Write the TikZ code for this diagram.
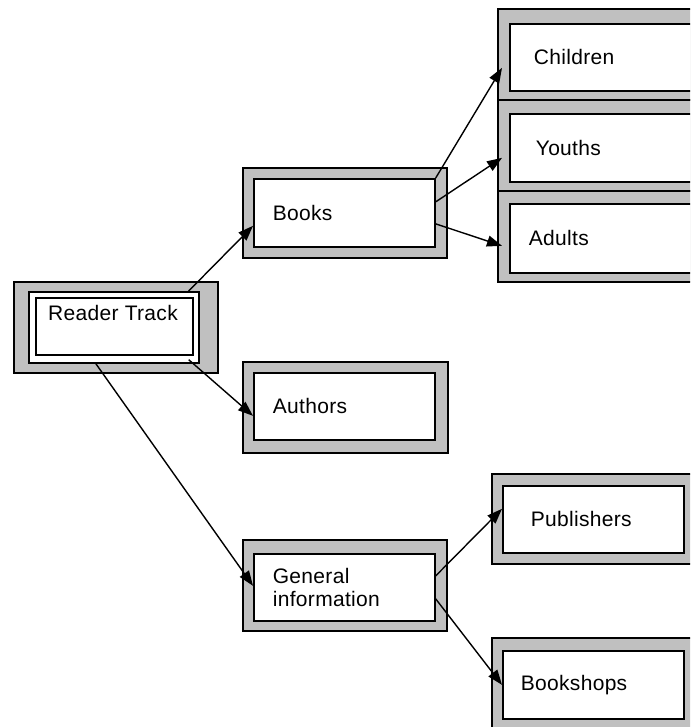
\documentclass[tikz,border=0pt]{standalone}
\usepackage{fontspec}
\setmainfont[LetterSpace=1.5]{Liberation Sans}
\usepackage{xcolor}
\usepackage{tikz}
\usetikzlibrary{positioning, arrows.meta, calc}
\definecolor{shellgray}{RGB}{192,192,192}
\newcommand{\boxfont}{\fontsize{21}{23.5}\selectfont}
\tikzset{
    shell/.style={draw, fill=shellgray, line width=1.7pt, inner sep=0pt, anchor=north west},
    panel/.style={draw, fill=white, line width=1.7pt, inner ysep=0pt, anchor=north west, align=left, font=\boxfont},
    link/.style={line width=1.4pt, -{Triangle[length=15pt,width=11pt]}}
}

\begin{document}
\begin{tikzpicture}[x=1pt,y=-1pt]
    \useasboundingbox (0,0) rectangle (690,727);
    \clip (0,0) rectangle (690,727);

    % Grey frames
    \node[shell, minimum width=204pt, minimum height=91pt] (readerO) at (13,281) {};
    \node[shell, minimum width=204pt, minimum height=90pt] (booksO) at (242,167) {};
    \node[shell, minimum width=205pt, minimum height=91pt] (authorsO) at (242,361) {};
    \node[shell, minimum width=204pt, minimum height=91pt] (generalO) at (242,539) {};
    \node[shell, minimum width=240pt, minimum height=91pt] (childrenO) at (497,8) {};
    \node[shell, minimum width=240pt, minimum height=91pt] (youthsO) at (497,99) {};
    \node[shell, minimum width=240pt, minimum height=91pt] (adultsO) at (497,190) {};
    \node[shell, minimum width=204pt, minimum height=90pt] (publishersO) at (491,473) {};
    \node[shell, minimum width=204pt, minimum height=100pt] (bookshopsO) at (491,637) {};

    % Root box (double line)
    \node[panel, inner sep=0pt, minimum width=170pt, minimum height=71pt] (readerF) at (28,291) {};
    \node[panel, inner sep=0pt, minimum width=157pt, minimum height=57pt] (reader) at (35,297) {};
    \node[font=\boxfont] (readerT) at (113,313) {Reader Track};

    % Second level
    \node[panel, text width=143pt, inner xsep=19pt, minimum height=68pt] (books) at (253,178) {Books};
    \node[panel, text width=143pt, inner xsep=19pt, minimum height=67pt] (authors) at (253,372) {Authors};
    \node[panel, text width=143pt, inner xsep=19pt, minimum height=67pt] (general) at (253,553) {General\\information};

    % Third level
    \node[panel, text width=182pt, inner xsep=24pt, minimum height=67pt] (children) at (509,23) {Children};
    \node[panel, text width=178pt, inner xsep=26pt, minimum height=68pt] (youths) at (509,113) {Youths};
    \node[panel, text width=192pt, inner xsep=19pt, minimum height=69pt] (adults) at (509,203) {Adults};
    \node[panel, text width=125pt, inner xsep=28pt, minimum height=67pt] (publishers) at (502,485) {Publishers};
    \node[panel, text width=145pt, inner xsep=18pt, minimum height=68pt] (bookshops) at (502,650) {Bookshops};

    % Arrows
    \draw[link] ([xshift=-11pt]readerF.north east) -- ([yshift=-13pt]books.west);
    \draw[link] ([xshift=-11pt,yshift=4pt]readerF.south east) -- ([yshift=-9.5pt]authors.west);
    \draw[link] ([xshift=-18pt]readerF.south) -- ([yshift=1.5pt]general.west);
    \draw[link] (books.north east) -- ([xshift=-7pt,yshift=-10.5pt]children.west);
    \draw[link] ([yshift=11pt]books.east) -- ([xshift=-7pt,yshift=-10pt]youths.west);
    \draw[link] ([yshift=-11pt]books.east) -- ([xshift=-7pt,yshift=-7.5pt]adults.west);
    \draw[link] ([yshift=11.5pt]general.east) -- ([yshift=10.5pt]publishers.west);
    \draw[link] ([yshift=-11.5pt]general.east) -- (bookshops.west);
\end{tikzpicture}
\end{document}
